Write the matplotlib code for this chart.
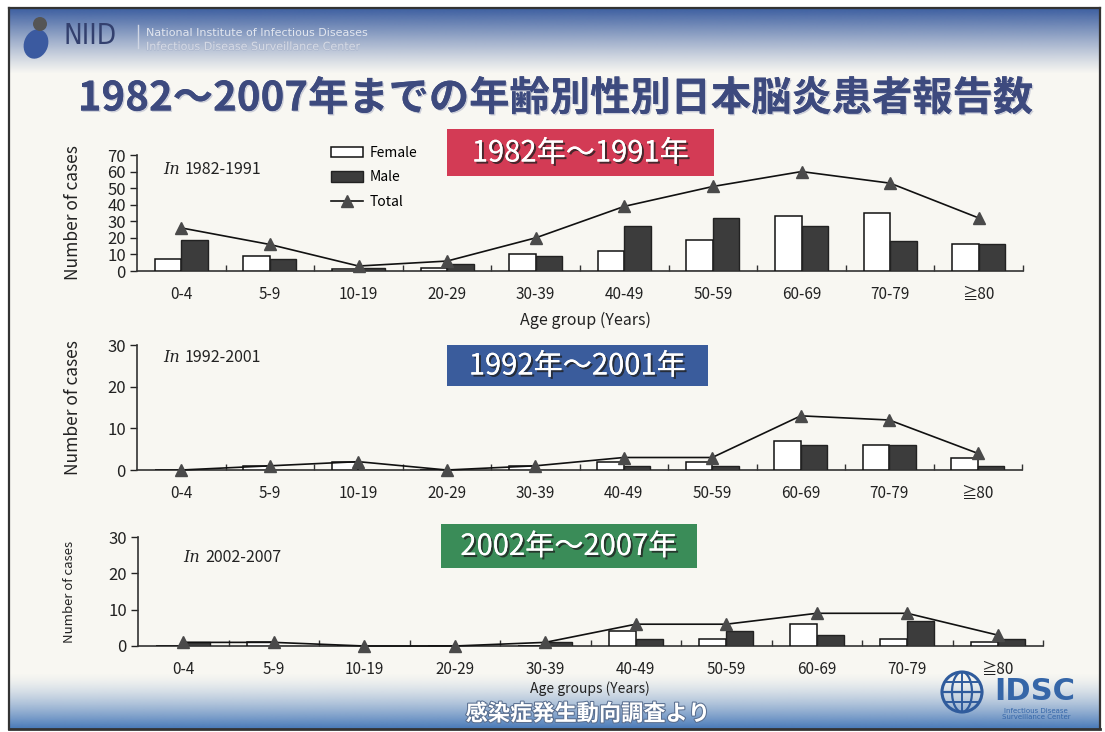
import matplotlib
matplotlib.use('Agg')
import matplotlib.pyplot as plt
import numpy as np
from matplotlib.patches import Rectangle, Circle, Ellipse, Patch
from matplotlib.lines import Line2D
import matplotlib.patheffects as pe

plt.rcParams['font.family'] = ['Noto Sans CJK JP', 'DejaVu Sans']

# ---------------- data ----------------
age_groups = ['0-4', '5-9', '10-19', '20-29', '30-39', '40-49', '50-59', '60-69', '70-79', '≧80']

female_1982 = [7, 9, 1, 2, 10, 12, 19, 33, 35, 16]
male_1982 = [19, 7, 2, 4, 9, 27, 32, 27, 18, 16]
total_1982 = [26, 16, 3, 6, 20, 39, 51, 60, 53, 32]

female_1992 = [0, 1, 2, 0, 1, 2, 2, 7, 6, 3]
male_1992 = [0, 0, 0, 0, 0, 1, 1, 6, 6, 1]
total_1992 = [0, 1, 2, 0, 1, 3, 3, 13, 12, 4]

female_2002 = [0, 1, 0, 0, 0, 4, 2, 6, 2, 1]
male_2002 = [1, 0, 0, 0, 1, 2, 4, 3, 7, 2]
total_2002 = [1, 1, 0, 0, 1, 6, 6, 9, 9, 3]

title = '1982～2007年までの年齢別性別日本脳炎患者報告数'
period_labels = ['1982年～1991年', '1992年～2001年', '2002年～2007年']
period_notes = ['1982-1991', '1992-2001', '2002-2007']
legend_labels = ['Female', 'Male', 'Total']
source_text = '感染症発生動向調査より'

# ---------------- figure ----------------
W, H = 1105, 732
fig = plt.figure(figsize=(W / 100, H / 100), dpi=100)
fig.patch.set_facecolor('#ffffff')


def fx(px):
    return px / W


def fy(py):
    return 1 - py / H


# background layer
bg = fig.add_axes([0, 0, 1, 1], zorder=0)
bg.set_xlim(0, W)
bg.set_ylim(H, 0)
bg.axis('off')
bg.add_patch(Rectangle((9, 8), 1091, 721, facecolor='#f8f7f2', edgecolor='none'))

# top gradient band
n = 200
t = np.linspace(0, 1, n)
top_rgba = np.zeros((n, 2, 4))
top_col = np.array([0x3c, 0x5e, 0xa0]) / 255
top_rgba[:, :, :3] = top_col
top_rgba[:, :, 3] = ((1 - t) ** 1.1)[:, None]
bg.imshow(top_rgba, extent=[9, 1100, 74, 8], aspect='auto', interpolation='bilinear', zorder=1)

# bottom gradient band
bot_rgba = np.zeros((n, 2, 4))
bot_col = np.array([0x46, 0x78, 0xb8]) / 255
bot_rgba[:, :, :3] = bot_col
bot_rgba[:, :, 3] = (t ** 1.5)[:, None]
bg.imshow(bot_rgba, extent=[9, 1100, 729, 672], aspect='auto', interpolation='bilinear', zorder=1)

# border lines
bg.plot([9, 1100], [8, 8], color='#333333', lw=1.6, zorder=3)
bg.plot([9, 9], [8, 729], color='#333333', lw=1.6, zorder=3)
bg.plot([1100, 1100], [8, 729], color='#333333', lw=1.6, zorder=3)
bg.plot([9, 1100], [729, 729], color='#333333', lw=2.0, zorder=3)

# NIID logo (simplified)
bg.add_patch(Ellipse((36, 44), 24, 30, angle=20, facecolor='#3b5aa0', edgecolor='none', zorder=4))
bg.add_patch(Circle((40, 24), 7, facecolor='#555555', edgecolor='none', zorder=4))
bg.text(64, 36, 'NIID', fontsize=20, color='#33406e', ha='left', va='center',
        family='DejaVu Sans', fontstretch='condensed', zorder=5)
bg.plot([138, 138], [25, 48], color='#d0d6e4', lw=1, zorder=5)
bg.text(146, 33, 'National Institute of Infectious Diseases', fontsize=8, color='#e2e6ef',
        ha='left', va='center', family='DejaVu Sans', zorder=5)
bg.text(146, 47, 'Infectious Disease Surveillance Center', fontsize=8, color='#d6dbe6',
        ha='left', va='center', family='DejaVu Sans', zorder=5,
        path_effects=[pe.withStroke(linewidth=0.8, foreground='#a9b4cc')])

# title
bg.text(555, 99, title, fontsize=29, color='#3d4a7e', weight='bold', ha='center', va='center',
        zorder=5, path_effects=[pe.withSimplePatchShadow(offset=(1, -1), shadow_rgbFace='#b0b4c8', alpha=0.6), pe.Normal()])

# period label boxes
boxes = [((447, 129, 267, 47), '#d33b55'), ((447, 345, 261, 41), '#3a5c9c'), ((441, 524, 256, 44), '#3a8c58')]
for ((bx, by, bw, bh), col), lab in zip(boxes, period_labels):
    bg.add_patch(Rectangle((bx, by), bw, bh, facecolor=col, edgecolor='none', zorder=4))
    bg.text(bx + bw / 2, by + bh / 2 + 1, lab, fontsize=21, color='white', ha='center', va='center', zorder=5,
            path_effects=[pe.withSimplePatchShadow(offset=(1.5, -1.5), shadow_rgbFace='#222222', alpha=0.8), pe.Normal()])

# source text at bottom
bg.text(588, 714, source_text, fontsize=16, color='white', weight='bold', ha='center', va='center', zorder=5,
        path_effects=[pe.withStroke(linewidth=1.5, foreground='#5a6f90')])

# IDSC logo (simplified)
gc = (962, 692)
bg.add_patch(Circle(gc, 20, facecolor='none', edgecolor='#2f5b9c', lw=2.2, zorder=5))
bg.add_patch(Ellipse(gc, 20, 40, facecolor='none', edgecolor='#2f5b9c', lw=1.6, zorder=5))
bg.plot([gc[0] - 20, gc[0] + 20], [gc[1], gc[1]], color='#2f5b9c', lw=1.6, zorder=5)
bg.plot([gc[0] - 17, gc[0] + 17], [gc[1] - 10, gc[1] - 10], color='#2f5b9c', lw=1.4, zorder=5)
bg.plot([gc[0] - 17, gc[0] + 17], [gc[1] + 10, gc[1] + 10], color='#2f5b9c', lw=1.4, zorder=5)
bg.plot([gc[0], gc[0]], [gc[1] - 20, gc[1] + 20], color='#2f5b9c', lw=1.4, zorder=5)
bg.text(1035, 692, 'IDSC', fontsize=22, weight='bold', color='#3566a8', ha='center', va='center',
        family='DejaVu Sans', zorder=5)
bg.text(1036, 714, 'Infectious Disease\nSurveillance Center', fontsize=5, color='#3566a8', ha='center',
        va='center', family='DejaVu Sans', linespacing=1.0, zorder=5)

# ---------------- panels ----------------
x = np.arange(len(age_groups))
panels = [
    dict(left=137, right=1023, y0=271, ytop=155, ymax=70, step=10, f=female_1982, m=male_1982, tot=total_1982,
         note_xy=(163, 170), ylab_fs=12.5, ylab_x=82),
    dict(left=137, right=1022, y0=470, ytop=345, ymax=30, step=10, f=female_1992, m=male_1992, tot=total_1992,
         note_xy=(163, 358), ylab_fs=12.5, ylab_x=82),
    dict(left=138, right=1043, y0=646, ytop=537, ymax=30, step=10, f=female_2002, m=male_2002, tot=total_2002,
         note_xy=(183, 557), ylab_fs=9.5, ylab_x=76),
]

axes = []
for i, p in enumerate(panels):
    ax = fig.add_axes([fx(p['left']), fy(p['y0']), fx(p['right'] - p['left']), (p['y0'] - p['ytop']) / H], zorder=2)
    ax.patch.set_alpha(0)
    ax.bar(x - 0.15, p['f'], width=0.3, color='white', edgecolor='#111111', lw=1.1, zorder=3)
    ax.bar(x + 0.15, p['m'], width=0.3, color='#3c3c3c', edgecolor='#222222', lw=1.0, zorder=3)
    ax.plot(x, p['tot'], color='#111111', lw=1.2, marker='^', ms=8, mfc='#4a4a4a', mec='#4a4a4a', zorder=4,
            clip_on=False)
    ax.set_xlim(-0.5, 9.5)
    ax.set_ylim(0, p['ymax'])
    ax.set_yticks(np.arange(0, p['ymax'] + 1, p['step']))
    ax.set_xticks(x)
    ax.set_xticklabels(age_groups)
    ax.set_xticks(np.arange(0.5, 10.0, 1), minor=True)
    ax.tick_params(axis='x', which='major', length=0, pad=11, labelsize=11, colors='#222222')
    ax.tick_params(axis='x', which='minor', direction='in', length=4, width=1, color='#333333')
    ax.tick_params(axis='y', which='major', direction='out', length=5, width=1, labelsize=12,
                   colors='#222222', pad=3)
    for s in ['top', 'right']:
        ax.spines[s].set_visible(False)
    for s in ['left', 'bottom']:
        ax.spines[s].set_color('#333333')
        ax.spines[s].set_linewidth(1.2)
    ax.set_ylabel('Number of cases', fontsize=p['ylab_fs'], color='#222222')
    ax.yaxis.set_label_coords((p['ylab_x'] - p['left']) / (p['right'] - p['left']), 0.5)
    # period note
    nx, ny = p['note_xy']
    fig.text(fx(nx), fy(ny), 'In', fontsize=11.5, style='italic', family='DejaVu Serif',
             color='#222222', ha='left', va='center', zorder=6)
    fig.text(fx(nx + 22), fy(ny), period_notes[i], fontsize=11.5, color='#222222', ha='left', va='center', zorder=6)
    axes.append(ax)

# legend in the first panel
handles = [
    Patch(facecolor='white', edgecolor='#111111', lw=1.1, label=legend_labels[0]),
    Patch(facecolor='#3c3c3c', edgecolor='#222222', lw=1.0, label=legend_labels[1]),
    Line2D([], [], color='#111111', lw=1.2, marker='^', ms=8, mfc='#4a4a4a', mec='#4a4a4a', label=legend_labels[2]),
]
leg = fig.legend(handles=handles, loc='upper left', bbox_to_anchor=(fx(331), fy(146)), frameon=False,
                 fontsize=10, handlelength=2.3, handleheight=0.75, handletextpad=0.5, labelspacing=0.75,
                 borderpad=0, borderaxespad=0)
leg.set_zorder(6)

# x axis labels
fig.text(fx(586), fy(320), 'Age group (Years)', fontsize=11.5, color='#222222', ha='center', va='center', zorder=6)
fig.text(fx(590), fy(689), 'Age groups (Years)', fontsize=10, color='#222222', ha='center', va='center', zorder=6)

fig.savefig('out.png', dpi=100)
